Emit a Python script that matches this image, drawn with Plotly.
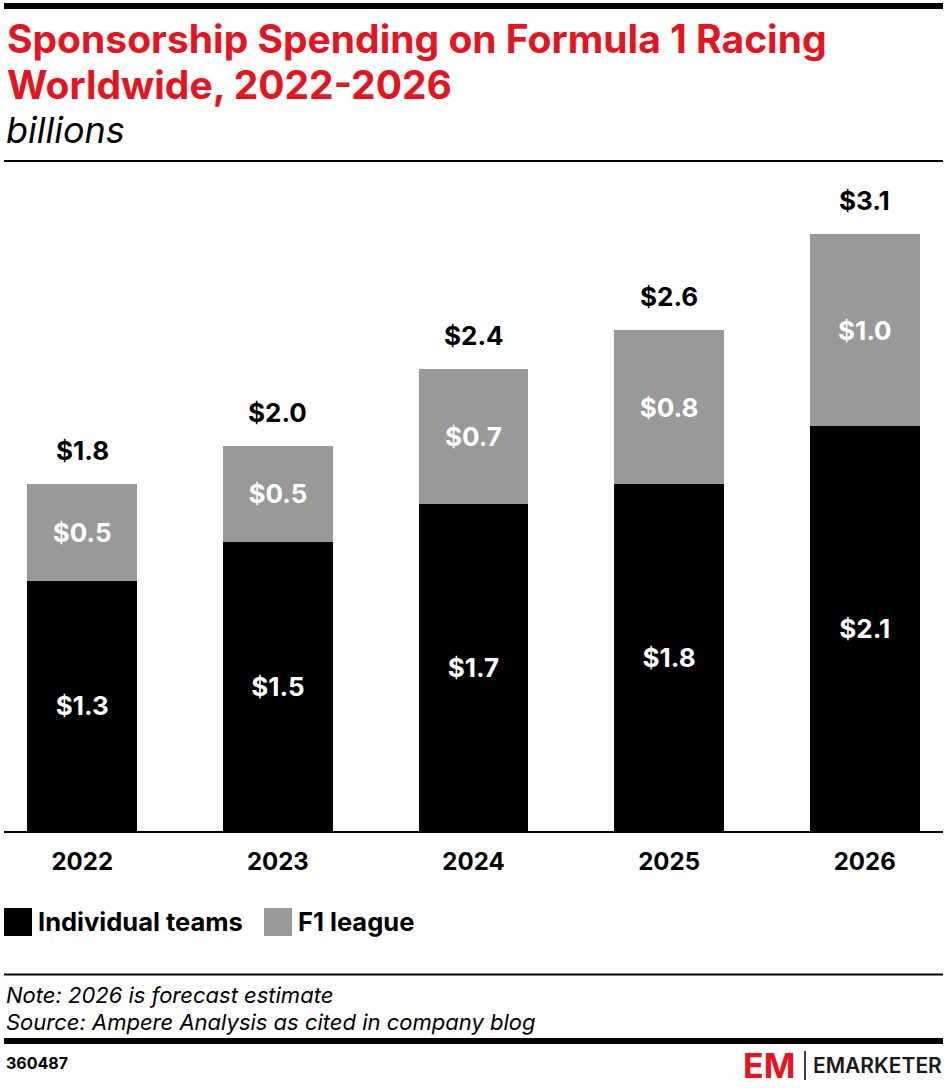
import plotly.graph_objects as go

# data
years = ["2022", "2023", "2024", "2025", "2026"]
individual_teams = [1.3, 1.5, 1.7, 1.8, 2.1]
f1_league = [0.5, 0.5, 0.7, 0.8, 1.0]
totals = [1.8, 2.0, 2.4, 2.6, 3.1]

W, H = 948, 1088
L, R, T, B = 4, 5, 176, 257
FONT = "Inter"
RED = "#e4151f"
GRAY = "#999999"


def px(x):
    return (x - L) / (W - L - R)


def py(y):
    return (H - B - y) / (H - B - T)


fig = go.Figure()
fig.add_trace(
    go.Bar(
        x=years,
        y=individual_teams,
        name="Individual teams",
        marker=dict(color="#000000", line=dict(width=0)),
        texttemplate="$%{y:.1f}",
        textposition="inside",
        insidetextanchor="middle",
        textfont=dict(family=FONT, size=26, color="white", weight="bold"),
    )
)
fig.add_trace(
    go.Bar(
        x=years,
        y=f1_league,
        name="F1 league",
        marker=dict(color=GRAY, line=dict(width=0)),
        texttemplate="$%{y:.1f}",
        textposition="inside",
        insidetextanchor="middle",
        textfont=dict(family=FONT, size=26, color="white", weight="bold"),
    )
)

annotations = []
# totals above each stack (category index on x)
for i, tot in enumerate(totals):
    annotations.append(
        dict(
            x=i, y=tot, xref="x", yref="y",
            text=f"<b>${tot:.1f}</b>", showarrow=False,
            yanchor="bottom", yshift=16,
            font=dict(family=FONT, size=26, color="#000000"),
        )
    )

# title block
annotations += [
    dict(x=px(5), y=py(38), xref="paper", yref="paper", xanchor="left", yanchor="middle",
         text="<b>Sponsorship Spending on Formula 1 Racing</b>",
         showarrow=False, font=dict(family=FONT, size=39, color=RED)),
    dict(x=px(5), y=py(85), xref="paper", yref="paper", xanchor="left", yanchor="middle",
         text="<b>Worldwide, 2022-2026</b>",
         showarrow=False, font=dict(family=FONT, size=39, color=RED)),
    dict(x=px(4), y=py(130), xref="paper", yref="paper", xanchor="left", yanchor="middle",
         text="<i>billions</i>", showarrow=False,
         font=dict(family=FONT, size=36, color="#000000")),
    # legend
    dict(x=px(36), y=py(921), xref="paper", yref="paper", xanchor="left", yanchor="middle",
         text="<b>Individual teams</b>", showarrow=False,
         font=dict(family=FONT, size=25.5, color="#000000")),
    dict(x=px(296), y=py(921), xref="paper", yref="paper", xanchor="left", yanchor="middle",
         text="<b>F1 league</b>", showarrow=False,
         font=dict(family=FONT, size=25.5, color="#000000")),
    # notes
    dict(x=px(4), y=py(995), xref="paper", yref="paper", xanchor="left", yanchor="middle",
         text="<i>Note: 2026 is forecast estimate</i>", showarrow=False,
         font=dict(family=FONT, size=22, color="#000000")),
    dict(x=px(4), y=py(1022), xref="paper", yref="paper", xanchor="left", yanchor="middle",
         text="<i>Source: Ampere Analysis as cited in company blog</i>", showarrow=False,
         font=dict(family=FONT, size=22, color="#000000")),
    dict(x=px(4), y=py(1063), xref="paper", yref="paper", xanchor="left", yanchor="middle",
         text="<b>360487</b>", showarrow=False,
         font=dict(family=FONT, size=16, color="#000000")),
    # logo
    dict(x=px(797), y=py(1065), xref="paper", yref="paper", xanchor="right", yanchor="middle",
         text="<b>EM</b>", showarrow=False,
         font=dict(family=FONT, size=34, color=RED)),
    dict(x=px(944), y=py(1065), xref="paper", yref="paper", xanchor="right", yanchor="middle",
         text="EMARKETER", showarrow=False,
         font=dict(family=FONT, size=21, color="#1a1a1a", weight=600)),
]

shapes = [
    dict(type="rect", xref="paper", yref="paper", x0=px(4), x1=px(943), y0=py(3), y1=py(9),
         fillcolor="#000000", line=dict(width=0)),
    dict(type="line", xref="paper", yref="paper", x0=px(4), x1=px(943), y0=py(161), y1=py(161),
         line=dict(color="#000000", width=2)),
    dict(type="line", xref="paper", yref="paper", x0=px(4), x1=px(943), y0=py(974.5), y1=py(974.5),
         line=dict(color="#000000", width=2)),
    dict(type="rect", xref="paper", yref="paper", x0=px(4), x1=px(943), y0=py(1038), y1=py(1044),
         fillcolor="#000000", line=dict(width=0)),
    # legend swatches
    dict(type="rect", xref="paper", yref="paper", x0=px(4), x1=px(32), y0=py(908), y1=py(936),
         fillcolor="#000000", line=dict(width=0)),
    dict(type="rect", xref="paper", yref="paper", x0=px(264), x1=px(292), y0=py(908), y1=py(936),
         fillcolor=GRAY, line=dict(width=0)),
    # logo divider
    dict(type="line", xref="paper", yref="paper", x0=px(805), x1=px(805), y0=py(1051), y1=py(1080),
         line=dict(color="#000000", width=1.5)),
]

fig.update_layout(
    width=W,
    height=H,
    barmode="stack",
    bargap=0.44,
    showlegend=False,
    plot_bgcolor="white",
    paper_bgcolor="white",
    margin=dict(l=L, r=R, t=T, b=B, pad=0),
    annotations=annotations,
    shapes=shapes,
    uniformtext=dict(mode=False),
)
fig.update_xaxes(
    type="category",
    range=[-0.40, 4.40],
    showline=True,
    linecolor="#000000",
    linewidth=2,
    ticks="",
    tickfont=dict(family=FONT, size=24, color="#000000", weight="bold"),
    ticklabelstandoff=8,
)
fig.update_yaxes(range=[0, 3.4], visible=False, showgrid=False)

# drop the default page margin so the figure sits at the window's corner
fig.write_html(
    "out.html",
    config={"displayModeBar": False},
    post_script="document.body.style.margin='0';",
)
